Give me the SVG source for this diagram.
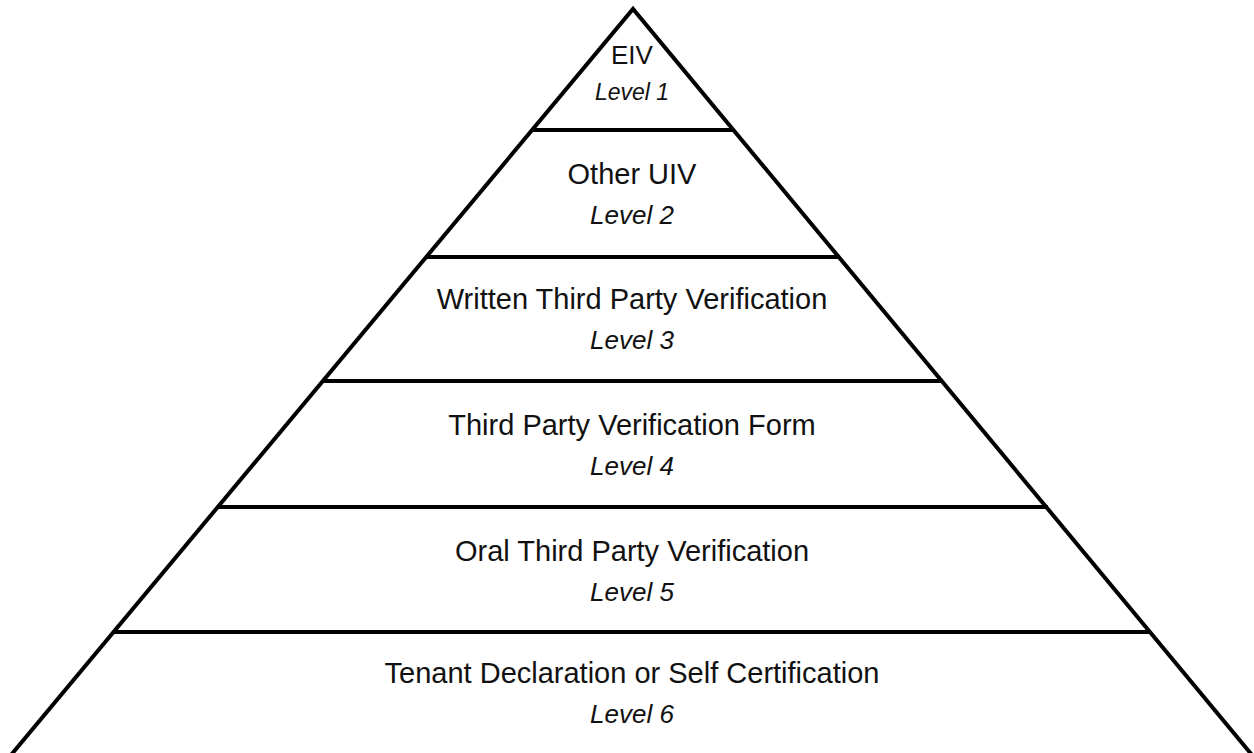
<svg xmlns="http://www.w3.org/2000/svg" width="1254" height="753" viewBox="0 0 1254 753">
<style>
.ln{stroke:#000;stroke-width:4;fill:none;stroke-linecap:butt}
.t{font-family:"Liberation Sans",Arial,sans-serif;font-size:29px;fill:#111;text-anchor:middle}
.l{font-family:"Liberation Sans",Arial,sans-serif;font-size:26px;font-style:italic;fill:#111;text-anchor:middle}
</style>
<rect width="1254" height="753" fill="#fff"/>
<g id="connectors">
<polyline class="ln" points="11,755 633,9 1252,755" stroke-linejoin="miter"/>
<line class="ln" x1="532" y1="130" x2="734" y2="130"/>
<line class="ln" x1="426" y1="257" x2="840" y2="257"/>
<line class="ln" x1="322" y1="381" x2="943" y2="381"/>
<line class="ln" x1="217" y1="507" x2="1048" y2="507"/>
<line class="ln" x1="113" y1="632" x2="1151" y2="632"/>
</g>
<g id="level1">
<text class="t" x="632" y="64" style="font-size:26px">EIV</text>
<text class="l" x="632" y="100" style="font-size:23px">Level 1</text>
</g>
<g id="level2">
<text class="t" x="632" y="184">Other UIV</text>
<text class="l" x="632" y="224">Level 2</text>
</g>
<g id="level3">
<text class="t" x="632" y="309">Written Third Party Verification</text>
<text class="l" x="632" y="349">Level 3</text>
</g>
<g id="level4">
<text class="t" x="632" y="435">Third Party Verification Form</text>
<text class="l" x="632" y="475">Level 4</text>
</g>
<g id="level5">
<text class="t" x="632" y="561">Oral Third Party Verification</text>
<text class="l" x="632" y="601">Level 5</text>
</g>
<g id="level6">
<text class="t" x="632" y="683">Tenant Declaration or Self Certification</text>
<text class="l" x="632" y="723">Level 6</text>
</g>
</svg>
